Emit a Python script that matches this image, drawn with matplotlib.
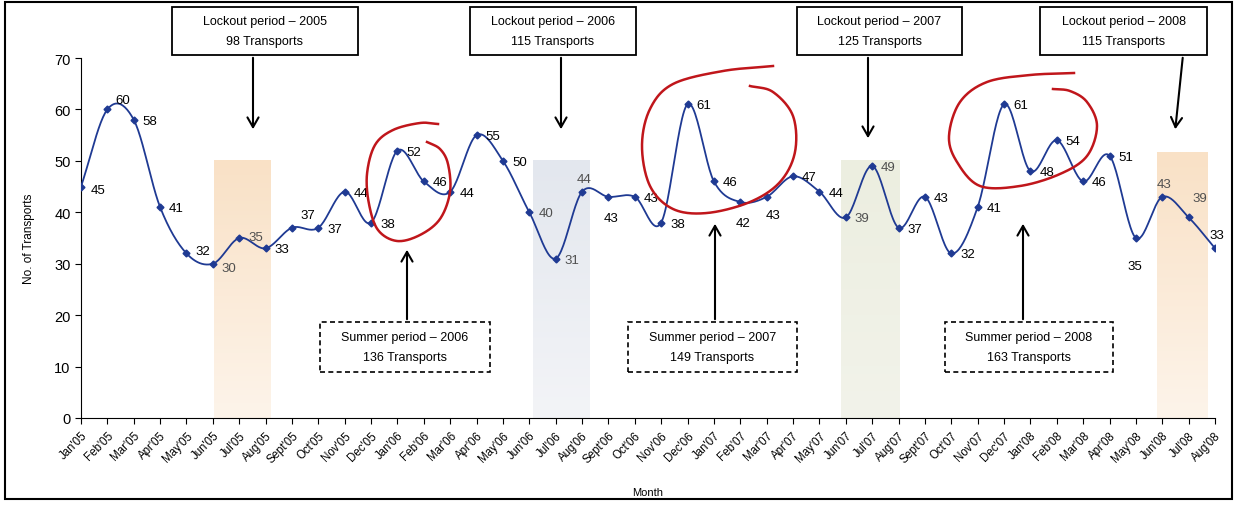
import numpy as np
import matplotlib
matplotlib.use('Agg')
import matplotlib.pyplot as plt
from matplotlib.patches import Rectangle, FancyArrowPatch

plt.rcParams['font.family'] = ['Liberation Sans', 'DejaVu Sans']

# data
months = ["Jan'05", "Feb'05", "Mar'05", "Apr'05", "May'05", "Jun'05", "Jul'05", "Aug'05",
          "Sept'05", "Oct'05", "Nov'05", "Dec'05", "Jan'06", "Feb'06", "Mar'06", "Apr'06",
          "May'06", "Jun'06", "Jul'06", "Aug'06", "Sept'06", "Oct'06", "Nov'06", "Dec'06",
          "Jan'07", "Feb'07", "Mar'07", "Apr'07", "May'07", "Jun'07", "Jul'07", "Aug'07",
          "Sept'07", "Oct'07", "Nov'07", "Dec'07", "Jan'08", "Feb'08", "Mar'08", "Apr'08",
          "May'08", "Jun'08", "Jul'08", "Aug'08"]
transports = [45, 60, 58, 41, 32, 30, 35, 33, 37, 37, 44, 38, 52, 46, 44, 55, 50, 40, 31, 44,
              43, 43, 38, 61, 46, 42, 43, 47, 44, 39, 49, 37, 43, 32, 41, 61, 48, 54, 46, 51,
              35, 43, 39, 33]

lockout_text = ['Lockout period \u2013 2005\n98 Transports',
                'Lockout period \u2013 2006\n115 Transports',
                'Lockout period \u2013 2007\n125 Transports',
                'Lockout period \u2013 2008\n115 Transports']
summer_text = ['Summer period \u2013 2006\n136 Transports',
               'Summer period \u2013 2007\n149 Transports',
               'Summer period \u2013 2008\n163 Transports']

# shaded periods (x start, x end, top, top colour, bottom colour)
shades = [(5.05, 7.2, 50, '#f9e1c6', '#fdf4ea'),
          (17.15, 19.3, 50, '#e3e7ee', '#f3f4f7'),
          (28.8, 31.0, 50, '#eceee0', '#f2f3ea'),
          (40.8, 42.7, 51.6, '#f9e1c6', '#fdf4ea')]

# label offsets in pixels (dx, dy, ha)
R = (9, -1, 'left')
A = (2, 13, 'center')
B = (3, -21, 'center')
offs = [(10, -3, 'left'), (8, 9, 'left'), R, R, (9, 2, 'left'), (9, -4, 'left'), (9, 1, 'left'), R,
        (8, 13, 'left'), R, R, R, R, R, R, R, R, R, R, A, B, R, R, R, R, B, (6, -18, 'center'),
        R, R, R, R, R, R, R, R, R, R, R, R, R, (-1, -28, 'center'), A, (4, 19, 'left'), A]
grey = {5, 6, 17, 18, 19, 29, 30, 41, 42}

W, H = 1238, 506


def catmull(x, y, n=24):
    pts = np.column_stack([x, y]).astype(float)
    p = np.vstack([2 * pts[0] - pts[1], pts, 2 * pts[-1] - pts[-2]])
    t = np.linspace(0, 1, n, endpoint=False)[:, None]
    out = []
    for i in range(1, len(p) - 2):
        p0, p1, p2, p3 = p[i - 1], p[i], p[i + 1], p[i + 2]
        out.append(0.5 * (2 * p1 + (-p0 + p2) * t + (2 * p0 - 5 * p1 + 4 * p2 - p3) * t ** 2
                          + (-p0 + 3 * p1 - 3 * p2 + p3) * t ** 3))
    out.append(pts[-1:])
    return np.vstack(out)


def P(x, y):
    return x / W, 1 - y / H


fig = plt.figure(figsize=(W / 100, H / 100), dpi=100)
ax = fig.add_axes([81 / W, 87 / H, 1134 / W, 360 / H])

x = np.arange(len(months))
for x0, x1, top, c_top, c_bot in shades:
    c1 = np.array(matplotlib.colors.to_rgb(c_top))
    c2 = np.array(matplotlib.colors.to_rgb(c_bot))
    f = np.linspace(0, 1, 100)[:, None]
    img = (c1 * (1 - f) + c2 * f)[:, None, :]
    ax.imshow(img, extent=[x0, x1, 0, top], aspect='auto', zorder=0)

curve = catmull(x, transports)
ax.plot(curve[:, 0], curve[:, 1], color='#1f3a93', lw=1.3, zorder=3)
ax.plot(x, transports, ls='none', marker='D', ms=3.5, color='#1f3a93', zorder=4)

for i, v in enumerate(transports):
    dx, dy, ha = offs[i]
    ax.annotate(str(v), (i, v), xytext=(dx, dy), textcoords='offset pixels', ha=ha,
                va='center', fontsize=9.5, color='#505050' if i in grey else 'black', zorder=5)

ax.set_xlim(0, len(months) - 1)
ax.set_ylim(0, 70)
ax.set_yticks(range(0, 71, 10))
ax.set_xticks(x)
ax.set_xticklabels(months, rotation=45, ha='right', rotation_mode='anchor', fontsize=8.3)
ax.tick_params(axis='y', labelsize=10.5, length=4, direction='out')
ax.tick_params(axis='x', length=4, direction='out', pad=4)
for s in ['top', 'right']:
    ax.spines[s].set_visible(False)
ax.set_ylabel('No. of Transports', fontsize=8.5, labelpad=14)
ax.set_xlabel('Month', fontsize=8, labelpad=16)
ax.patch.set_alpha(0)

# outer frame
fig.patches.append(Rectangle((5 / W, 1 - 500 / H), 1227 / W, 497 / H, transform=fig.transFigure,
                             fill=False, ec='black', lw=1.5, zorder=0))

# lockout boxes with arrows pointing down
lock_boxes = [(172, 358, 253, 253, 133), (470, 636, 561, 561, 133),
              (797, 962, 868, 868, 142), (1040, 1207, 1183, 1175, 133)]
for (bx0, bx1, ax0, ax1, ay), txt in zip(lock_boxes, lockout_text):
    fig.patches.append(Rectangle(P(bx0, 56), (bx1 - bx0) / W, 48 / H, transform=fig.transFigure,
                                 fc='white', ec='black', lw=1.3, zorder=6))
    fig.text(*P((bx0 + bx1) / 2, 32), txt, ha='center', va='center', fontsize=9,
             linespacing=1.9, zorder=7)
    fig.patches.append(FancyArrowPatch(P(ax0, 56), P(ax1, ay), transform=fig.transFigure,
                                       arrowstyle='->,head_length=7,head_width=4', lw=1.5,
                                       color='black', zorder=6))

# summer boxes with arrows pointing up
sum_boxes = [(320, 490, 407, 248), (628, 797, 715, 222), (945, 1113, 1023, 222)]
for (bx0, bx1, axx, ay), txt in zip(sum_boxes, summer_text):
    fig.patches.append(Rectangle(P(bx0, 373), (bx1 - bx0) / W, 50 / H, transform=fig.transFigure,
                                 fc='white', ec='black', lw=1.2, ls=(0, (3, 2)), zorder=6))
    fig.text(*P((bx0 + bx1) / 2, 348), txt, ha='center', va='center', fontsize=9,
             linespacing=1.9, zorder=7)
    fig.patches.append(FancyArrowPatch(P(axx, 323), P(axx, ay), transform=fig.transFigure,
                                       arrowstyle='->,head_length=7,head_width=4', lw=1.5,
                                       color='black', zorder=6))

# hand drawn red circles (pixel coordinates)
circles = [
    [(438, 125), (420, 124), (393, 131), (375, 146), (367, 175), (369, 205), (378, 231),
     (397, 242), (420, 236), (440, 220), (450, 193), (448, 165), (440, 150), (427, 143)],
    [(773, 67), (723, 72), (673, 85), (650, 110), (642, 147), (650, 187), (673, 210),
     (707, 214), (750, 203), (780, 183), (795, 153), (793, 117), (773, 93), (750, 87)],
    [(1074, 74), (1030, 76), (987, 83), (960, 103), (949, 137), (957, 163), (980, 187),
     (1020, 187), (1060, 175), (1087, 157), (1097, 127), (1087, 103), (1070, 92), (1053, 90)],
]
for pts in circles:
    pts = np.array(pts, dtype=float)
    c = catmull(pts[:, 0], pts[:, 1])
    fig.lines.append(matplotlib.lines.Line2D(c[:, 0] / W, 1 - c[:, 1] / H,
                                             transform=fig.transFigure, color='#c0161b',
                                             lw=1.8, zorder=8))

fig.savefig('out.png', dpi=100)
